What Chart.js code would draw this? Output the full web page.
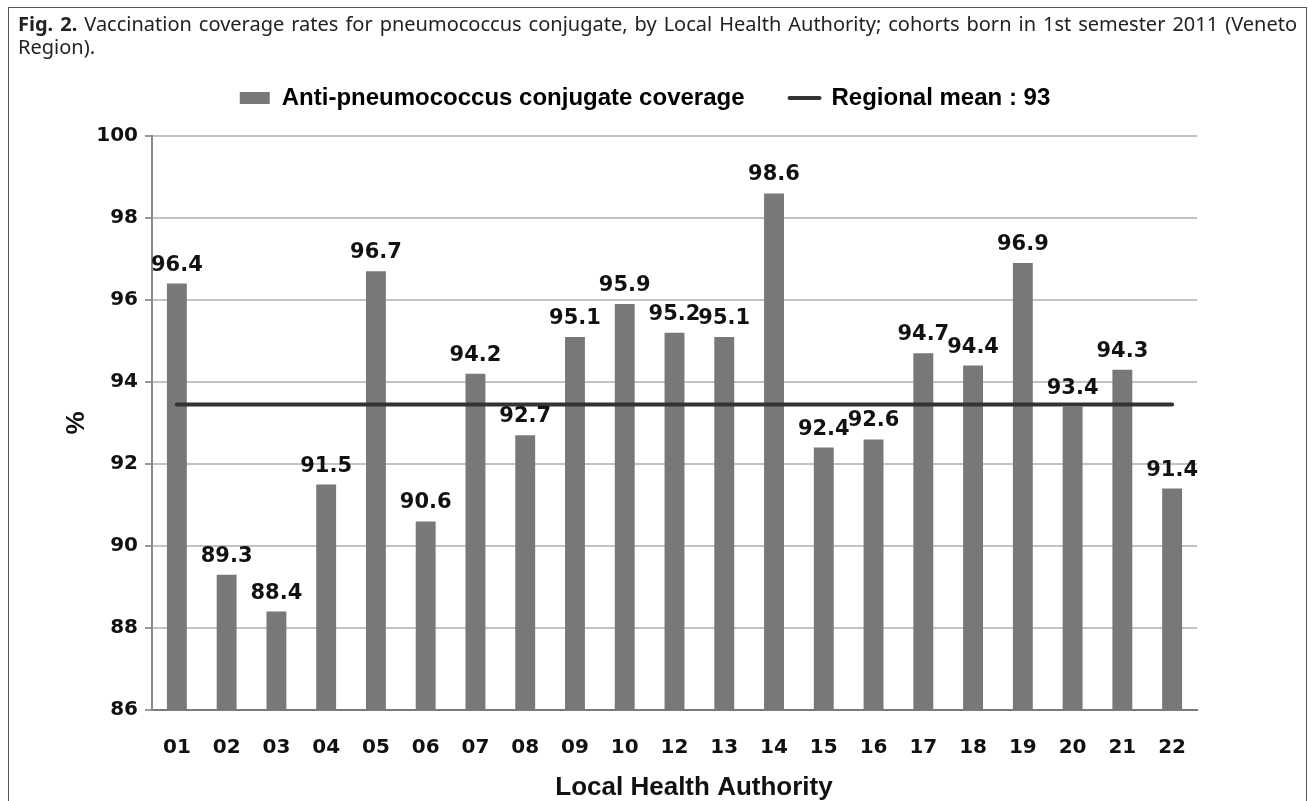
<!DOCTYPE html>
<html>
<head>
<meta charset="utf-8">
<title>Pneumococcus conjugate coverage by LHA</title>
<script src="https://cdn.jsdelivr.net/npm/chart.js@4.4.0/dist/chart.umd.min.js"></script>
<style>
  html, body { margin: 0; padding: 0; background: #fff; }
  body { width: 1308px; height: 801px; position: relative; overflow: hidden; }
  #frame { position: absolute; left: 8px; top: 7px; width: 1297px; height: 830px; border: 1px solid #555; border-bottom: none; }
  #caption { position: absolute; left: 18px; top: 12px; width: 1279px; font-family: "Noto Sans", sans-serif; font-size: 20px; line-height: 23px; color: #222; z-index: 2; }
  #caption .l1 { text-align: justify; text-align-last: justify; white-space: nowrap; }
  #chartBox { position: absolute; left: 0; top: 0; width: 1308px; height: 801px; }
</style>
</head>
<body>
<div id="frame"></div>
<div id="caption">
  <div class="l1"><b>Fig. 2.</b> Vaccination coverage rates for pneumococcus conjugate, by Local Health Authority; cohorts born in 1st semester 2011 (Veneto</div>
  <div>Region).</div>
</div>
<div id="chartBox"><canvas id="coverageChart" width="1308" height="801"></canvas></div>
<script>
// Local Health Authorities (there is no 11 in the figure)
const lhaLabels = ["01", "02", "03", "04", "05", "06", "07", "08", "09", "10",
                   "12", "13", "14", "15", "16", "17", "18", "19", "20", "21", "22"];
const coverage = [96.4, 89.3, 88.4, 91.5, 96.7, 90.6, 94.2, 92.7, 95.1, 95.9,
                  95.2, 95.1, 98.6, 92.4, 92.6, 94.7, 94.4, 96.9, 93.4, 94.3, 91.4];
// regional mean line (legend says 93, drawn a bit higher)
const regionalMean = [93.45, 93.45, 93.45, 93.45, 93.45, 93.45, 93.45, 93.45, 93.45, 93.45,
                      93.45, 93.45, 93.45, 93.45, 93.45, 93.45, 93.45, 93.45, 93.45, 93.45, 93.45];
const yMin = 86;
const yMax = 100;
const yStep = 2;

const tickFont = { family: '"DejaVu Sans"', size: 20, weight: "bold" };
const legendFont = { family: '"Liberation Sans", Arial', size: 24, weight: "bold" };
const titleFont = { family: '"Liberation Sans", Arial', size: 26, weight: "bold" };

// value labels above the bars
const valueLabels = {
    id: "valueLabels",
    afterDatasetsDraw(chart) {
        const ctx = chart.ctx;
        const meta = chart.getDatasetMeta(0);
        ctx.save();
        ctx.font = 'bold 21px "DejaVu Sans"';
        ctx.fillStyle = "#111";
        ctx.textAlign = "center";
        ctx.textBaseline = "alphabetic";
        meta.data.forEach((bar, i) => {
            ctx.fillText(coverage[i].toFixed(1), bar.x, bar.y - 13);
        });
        ctx.restore();
    }
};

// keep the legend row tight above the plot and centred like the original
const legendLayout = {
    id: "legendLayout",
    beforeLayout(chart) {
        const lg = chart.legend;
        if (lg && !lg._fixedFit) {
            const fit = lg.fit;
            lg.fit = function () { fit.call(this); this.height = 95; };
            lg._fixedFit = true;
        }
    },
    afterLayout(chart) {
        if (chart.legend) chart.legend.left = 93;
    }
};

const ctx = document.getElementById("coverageChart").getContext("2d");
const coverageChart = new Chart(ctx, {
    type: "bar",
    data: {
        labels: lhaLabels,
        datasets: [{
            type: "bar",
            label: "Anti-pneumococcus conjugate coverage",
            data: coverage,
            backgroundColor: "#787878",
            borderWidth: 0,
            categoryPercentage: 1,
            barPercentage: 0.4,
            order: 1
        }, {
            type: "line",
            label: "Regional mean : 93",
            data: regionalMean,
            borderColor: "#333",
            borderWidth: 4,
            borderCapStyle: "round",
            pointRadius: 0,
            fill: false,
            order: 0
        }]
    },
    options: {
        responsive: false,
        animation: false,
        devicePixelRatio: 1,
        layout: { padding: { top: 41, right: 111, bottom: 0, left: 0 } },
        plugins: {
            tooltip: { enabled: false },
            legend: {
                position: "top",
                labels: {
                    usePointStyle: true,
                    pointStyleWidth: 30,
                    boxHeight: 12,
                    padding: 45,
                    color: "#111",
                    font: legendFont,
                    generateLabels: () => [
                        { text: "Anti-pneumococcus conjugate coverage", fillStyle: "#787878", strokeStyle: "#787878",
                          lineWidth: 0, pointStyle: "rect", hidden: false, datasetIndex: 0 },
                        { text: "Regional mean : 93", fillStyle: "#333", strokeStyle: "#333",
                          lineWidth: 4, lineCap: "round", pointStyle: "line", hidden: false, datasetIndex: 1 }
                    ]
                }
            }
        },
        scales: {
            x: {
                grid: { display: false, drawTicks: false },
                border: { display: true, color: "#7a7a7a", width: 2 },
                ticks: { color: "#111", padding: 26, font: tickFont, maxRotation: 0 },
                title: { display: true, text: "\u2003\u2002Local Health Authority", color: "#111", font: titleFont, padding: { top: 0, bottom: -2 } },
                afterFit(scale) { scale.height = 91; }
            },
            y: {
                min: yMin,
                max: yMax,
                ticks: { stepSize: yStep, padding: 7, color: "#111", font: tickFont },
                grid: { color: "#c2c2c2", lineWidth: 2, tickLength: 7, tickColor: "#999" },
                border: { color: "#8a8a8a", width: 2 },
                title: { display: true, text: "%", color: "#111", font: titleFont, padding: { top: 61, bottom: 0 } },
                afterFit(scale) { scale.width = 152; }
            }
        }
    },
    plugins: [valueLabels, legendLayout]
});
</script>
</body>
</html>
